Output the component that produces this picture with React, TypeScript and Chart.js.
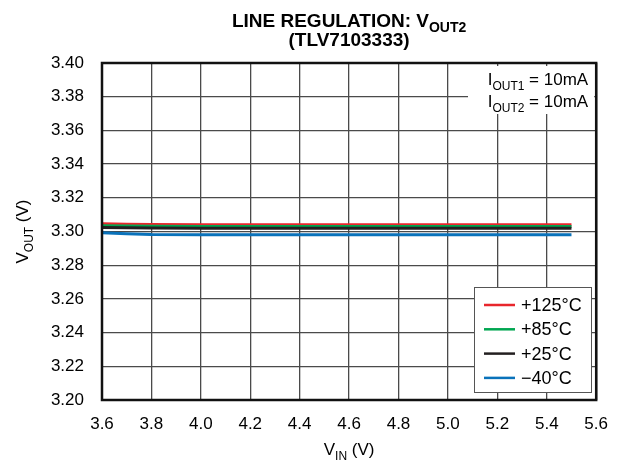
import React, { useEffect, useRef } from "react";
import { Chart, registerables } from "chart.js";

Chart.register(...registerables);

const vin = [3.6, 3.7, 3.8, 4.0, 4.2, 4.4, 4.6, 4.8, 5.0, 5.2, 5.4, 5.5];
const vout125 = [3.3046, 3.3043, 3.3041, 3.304, 3.304, 3.304, 3.304, 3.304, 3.304, 3.304, 3.304, 3.304];
const vout85 = [3.3034, 3.3032, 3.3031, 3.303, 3.303, 3.303, 3.303, 3.303, 3.303, 3.303, 3.303, 3.303];
const vout25 = [3.3024, 3.3022, 3.3021, 3.302, 3.302, 3.302, 3.302, 3.302, 3.302, 3.302, 3.302, 3.302];
const voutM40 = [3.2992, 3.2986, 3.2982, 3.2981, 3.2981, 3.2981, 3.2981, 3.2981, 3.2981, 3.2981, 3.2981, 3.2981];
const seriesLabels = ["+125°C", "+85°C", "+25°C", "\u221240°C"];
const seriesColors = ["#e8262c", "#00a651", "#231f20", "#0a72ba"];
const xTicks = [3.6, 3.8, 4.0, 4.2, 4.4, 4.6, 4.8, 5.0, 5.2, 5.4, 5.6];
const yTicks = [3.2, 3.22, 3.24, 3.26, 3.28, 3.3, 3.32, 3.34, 3.36, 3.38, 3.4];

const FONT = '"Liberation Sans", Arial, Helvetica, sans-serif';

type Part = { t: string; sub?: boolean };

function drawRich(
  ctx: CanvasRenderingContext2D,
  parts: Part[],
  x: number,
  y: number,
  align: "left" | "center" | "right",
  size: number,
  bold = false
) {
  const w = bold ? "bold " : "";
  const subSize = Math.round(size * 0.72);
  let total = 0;
  for (const p of parts) {
    ctx.font = `${w}${p.sub ? subSize : size}px ${FONT}`;
    total += ctx.measureText(p.t).width;
  }
  let cx = align === "left" ? x : align === "center" ? x - total / 2 : x - total;
  ctx.textAlign = "left";
  ctx.textBaseline = "alphabetic";
  for (const p of parts) {
    ctx.font = `${w}${p.sub ? subSize : size}px ${FONT}`;
    ctx.fillText(p.t, cx, p.sub ? y + size * 0.28 : y);
    cx += ctx.measureText(p.t).width;
  }
}

const overlay = {
  id: "overlay",
  afterDraw(chart: any) {
    const ctx: CanvasRenderingContext2D = chart.ctx;
    const a = chart.chartArea;
    ctx.save();
    ctx.fillStyle = "#000";
    const cxMid = (a.left + a.right) / 2;
    // title
    drawRich(ctx, [{ t: "LINE REGULATION: V" }, { t: "OUT2", sub: true }], cxMid, 27, "center", 19, true);
    drawRich(ctx, [{ t: "(TLV7103333)" }], cxMid, 46, "center", 19, true);
    // x label
    drawRich(ctx, [{ t: "V" }, { t: "IN", sub: true }, { t: " (V)" }], cxMid, 455, "center", 17);
    // y label
    ctx.save();
    ctx.translate(28, (a.top + a.bottom) / 2);
    ctx.rotate(-Math.PI / 2);
    drawRich(ctx, [{ t: "V" }, { t: "OUT", sub: true }, { t: " (V)" }], 0, 0, "center", 17);
    ctx.restore();
    // annotation
    ctx.fillStyle = "#fff";
    ctx.fillRect(468, 66, a.right - 470, 48);
    ctx.fillStyle = "#000";
    drawRich(ctx, [{ t: "I" }, { t: "OUT1", sub: true }, { t: " = 10mA" }], a.right - 8, 85, "right", 17);
    drawRich(ctx, [{ t: "I" }, { t: "OUT2", sub: true }, { t: " = 10mA" }], a.right - 8, 107, "right", 17);
    // legend
    const lx = 474, ly = 287, lw = 117, lh = 105;
    ctx.fillStyle = "#fff";
    ctx.fillRect(lx, ly, lw, lh);
    ctx.strokeStyle = "#555";
    ctx.lineWidth = 1;
    ctx.strokeRect(lx + 0.5, ly + 0.5, lw, lh);
    for (let i = 0; i < seriesLabels.length; i++) {
      const yy = 305 + i * 24.3;
      ctx.strokeStyle = seriesColors[i];
      ctx.lineWidth = 2.5;
      ctx.beginPath();
      ctx.moveTo(484, yy);
      ctx.lineTo(515, yy);
      ctx.stroke();
      ctx.fillStyle = "#000";
      ctx.font = `18px ${FONT}`;
      ctx.textBaseline = "middle";
      ctx.textAlign = "left";
      ctx.fillText(seriesLabels[i], 521, yy + 1);
    }
    // frame
    ctx.strokeStyle = "#111";
    ctx.lineWidth = 2.5;
    ctx.strokeRect(a.left, a.top, a.right - a.left, a.bottom - a.top);
    ctx.restore();
  },
};

export default function App() {
  const ref = useRef<HTMLCanvasElement>(null);
  useEffect(() => {
    document.body.style.margin = "0";
    const mk = (ys: number[]) => vin.map((x, i) => ({ x, y: ys[i] }));
    const all = [vout125, vout85, vout25, voutM40];
    const chart = new Chart(ref.current!, {
      type: "line",
      data: {
        datasets: all.map((d, i) => ({
          label: seriesLabels[i],
          data: mk(d),
          borderColor: seriesColors[i],
          backgroundColor: seriesColors[i],
          borderWidth: 3,
          pointRadius: 0,
          tension: 0,
          order: 3 - i,
        })),
      },
      options: {
        responsive: false,
        animation: false,
        layout: { padding: { left: 0, right: 24, top: 63, bottom: 0 } },
        plugins: { legend: { display: false }, title: { display: false }, tooltip: { enabled: false } },
        scales: {
          x: {
            type: "linear",
            min: 3.6,
            max: 5.6,
            afterBuildTicks: (s: any) => {
              s.ticks = xTicks.map((v) => ({ value: v }));
            },
            ticks: {
              callback: (v: any) => Number(v).toFixed(1),
              font: { size: 17, family: FONT },
              color: "#000",
              padding: 14,
              maxRotation: 0,
              autoSkip: false,
            },
            grid: { color: "#4a4a4a", lineWidth: 1.3, drawTicks: false },
            border: { display: false },
            afterFit: (s: any) => {
              s.height = 62;
            },
          },
          y: {
            type: "linear",
            min: 3.2,
            max: 3.4,
            afterBuildTicks: (s: any) => {
              s.ticks = yTicks.map((v) => ({ value: v }));
            },
            ticks: {
              callback: (v: any) => Number(v).toFixed(2),
              font: { size: 17, family: FONT },
              color: "#000",
              padding: 18,
              autoSkip: false,
            },
            grid: { color: "#4a4a4a", lineWidth: 1.3, drawTicks: false },
            border: { display: false },
            afterFit: (s: any) => {
              s.width = 102;
            },
          },
        },
      },
      plugins: [overlay],
    });
    return () => chart.destroy();
  }, []);
  return (
    <div style={{ position: "absolute", left: 0, top: 0, width: 622, height: 462, background: "#fff" }}>
      <canvas ref={ref} width={622} height={462} />
    </div>
  );
}
